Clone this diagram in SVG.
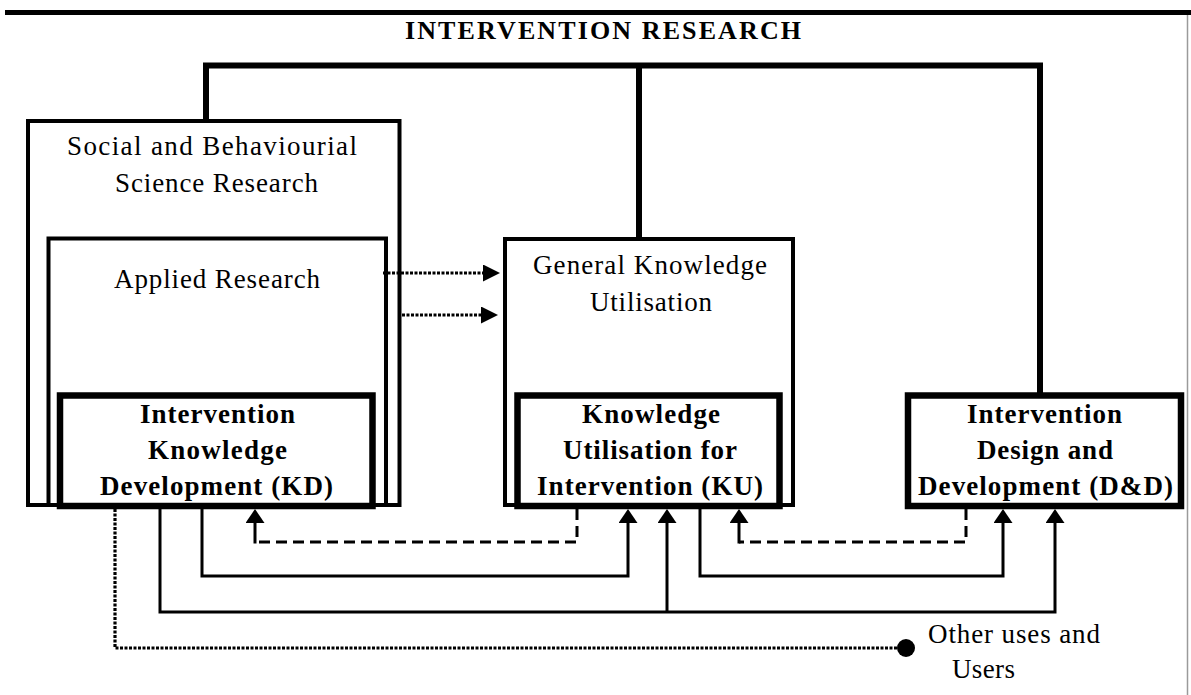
<svg xmlns="http://www.w3.org/2000/svg" width="1191" height="695" viewBox="0 0 1191 695">
  <style>
    .box { fill: none; stroke: #000; stroke-width: 4; }
    .core { fill: #fff; stroke: #000; stroke-width: 6.5; }
    .title { font-family: "Liberation Serif", "Times New Roman", serif; font-size: 26px; font-weight: bold; fill: #000; }
    .lbl { font-family: "Liberation Serif", "Times New Roman", serif; font-size: 27px; fill: #000; }
    .blbl { font-family: "Liberation Serif", "Times New Roman", serif; font-size: 27px; font-weight: bold; fill: #000; }
    .trunk { fill: none; stroke: #000; stroke-width: 6; stroke-linejoin: miter; }
    .solid { fill: none; stroke: #000; stroke-width: 3; }
    .dashed { fill: none; stroke: #000; stroke-width: 3; stroke-dasharray: 11 6; }
    .dotted { fill: none; stroke: #000; stroke-width: 3.2; stroke-dasharray: 3 1.5; }
  </style>
  <defs>
    <marker id="arrUp" viewBox="0 0 14 19" refX="0" refY="9.5" markerWidth="14" markerHeight="19" markerUnits="userSpaceOnUse" orient="auto">
      <path d="M0,0 L14,9.5 L0,19 Z" fill="#000"/>
    </marker>
    <marker id="arrSide" viewBox="0 0 17 17" refX="0" refY="8.5" markerWidth="17" markerHeight="17" markerUnits="userSpaceOnUse" orient="auto">
      <path d="M0,0 L17,8.5 L0,17 Z" fill="#000"/>
    </marker>
  </defs>

  <rect x="0" y="0" width="1191" height="695" fill="#fff"/>

  <!-- page frame: heavy top rule and thin right edge -->
  <g id="frame">
    <rect x="5" y="10" width="1186" height="5" fill="#000"/>
    <line x1="1187.5" y1="15" x2="1187.5" y2="695" stroke="#9a9a9a" stroke-width="1.5"/>
  </g>

  <g id="title">
    <text class="title" x="603" y="39" text-anchor="middle" textLength="396" lengthAdjust="spacing">INTERVENTION RESEARCH</text>
  </g>

  <!-- outer research field -->
  <g id="social-science">
    <rect class="box" x="28" y="121" width="371.5" height="384"/>
    <text class="lbl" x="212" y="155" text-anchor="middle" textLength="290" lengthAdjust="spacing">Social and Behaviourial</text>
    <text class="lbl" x="216.5" y="192" text-anchor="middle" textLength="203" lengthAdjust="spacing">Science Research</text>
  </g>

  <g id="applied-research">
    <rect class="box" x="48.5" y="238.5" width="337.5" height="266.5"/>
    <text class="lbl" x="217" y="288" text-anchor="middle" textLength="206" lengthAdjust="spacing">Applied Research</text>
  </g>

  <g id="general-knowledge">
    <rect class="box" x="505" y="239" width="288" height="266"/>
    <text class="lbl" x="650" y="274" text-anchor="middle" textLength="234" lengthAdjust="spacing">General Knowledge</text>
    <text class="lbl" x="651" y="311" text-anchor="middle" textLength="122" lengthAdjust="spacing">Utilisation</text>
  </g>

  <g id="kd">
    <rect class="core" x="60" y="395.5" width="312.5" height="110.5"/>
    <text class="blbl" x="217.5" y="423" text-anchor="middle" textLength="155" lengthAdjust="spacing">Intervention</text>
    <text class="blbl" x="217.5" y="459" text-anchor="middle" textLength="139" lengthAdjust="spacing">Knowledge</text>
    <text class="blbl" x="216.5" y="495" text-anchor="middle" textLength="233" lengthAdjust="spacing">Development (KD)</text>
  </g>

  <g id="ku">
    <rect class="core" x="517.5" y="395.5" width="262" height="110.5"/>
    <text class="blbl" x="651" y="423" text-anchor="middle" textLength="138" lengthAdjust="spacing">Knowledge</text>
    <text class="blbl" x="650" y="459" text-anchor="middle" textLength="174" lengthAdjust="spacing">Utilisation for</text>
    <text class="blbl" x="650" y="495" text-anchor="middle" textLength="226" lengthAdjust="spacing">Intervention (KU)</text>
  </g>

  <g id="dd">
    <rect class="core" x="908" y="395.5" width="273" height="110.5"/>
    <text class="blbl" x="1044.5" y="423" text-anchor="middle" textLength="155" lengthAdjust="spacing">Intervention</text>
    <text class="blbl" x="1045" y="459" text-anchor="middle" textLength="136" lengthAdjust="spacing">Design and</text>
    <text class="blbl" x="1045.5" y="495" text-anchor="middle" textLength="255" lengthAdjust="spacing">Development (D&amp;D)</text>
  </g>

  <g id="other-uses">
    <circle cx="906" cy="648" r="9" fill="#000"/>
    <text class="lbl" x="928" y="643" textLength="172" lengthAdjust="spacing">Other uses and</text>
    <text class="lbl" x="952" y="678" textLength="63" lengthAdjust="spacing">Users</text>
  </g>

  <g id="connectors">
    <!-- umbrella linking the three strands -->
    <path class="trunk" d="M206,121 V65.5 H1040 V395"/>
    <path class="trunk" d="M639,65.5 V239"/>

    <!-- applied research feeding general knowledge utilisation -->
    <path class="dotted" d="M383,273 H483" marker-end="url(#arrSide)"/>
    <path class="dotted" d="M402,315 H481" marker-end="url(#arrSide)"/>

    <!-- KD outputs -->
    <path class="solid" d="M160,509 V612 H1055 V523" marker-end="url(#arrUp)"/>
    <path class="solid" d="M667,612 V523" marker-end="url(#arrUp)"/>
    <path class="solid" d="M202,509 V576 H628 V523" marker-end="url(#arrUp)"/>

    <!-- KU output to D&D -->
    <path class="solid" d="M700,509 V576 H1003 V523" marker-end="url(#arrUp)"/>

    <!-- feedback loops -->
    <path class="dashed" d="M577,509 V542 H255"/>
    <path class="solid" d="M255,543.5 V523" marker-end="url(#arrUp)"/>
    <path class="dashed" d="M966,509 V542 H739"/>
    <path class="solid" d="M739,543.5 V523" marker-end="url(#arrUp)"/>

    <!-- KD to other uses -->
    <path class="dotted" d="M115,509 V648 H898"/>
  </g>
</svg>
